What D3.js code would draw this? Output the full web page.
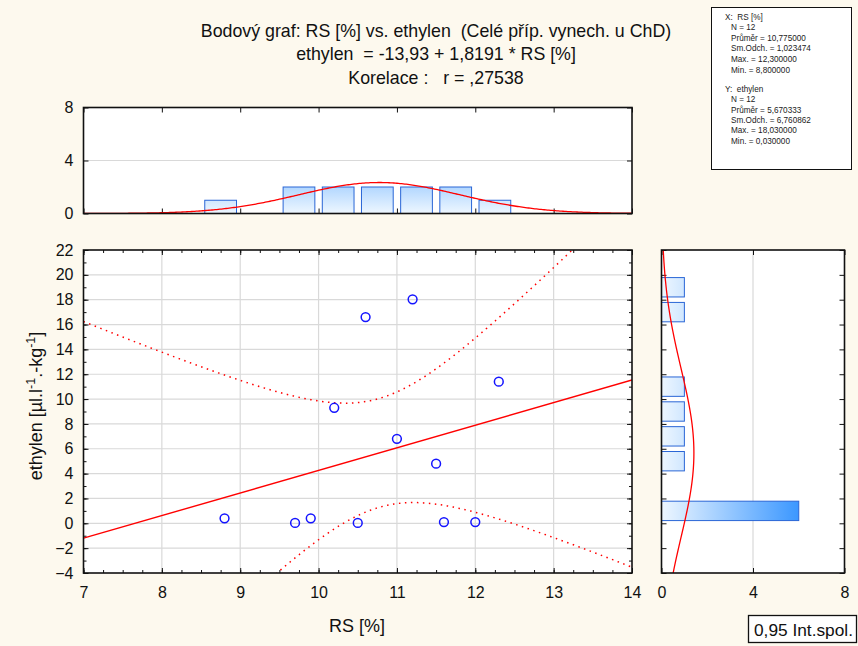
<!DOCTYPE html>
<html><head><meta charset="utf-8">
<script src="https://cdn.jsdelivr.net/npm/d3@7"></script>
<style>
body{margin:0;background:#fdf9ee;}
svg{display:block;font-family:"Liberation Sans",Arial,sans-serif;}
</style>
</head><body>
<svg id="c" width="858" height="646"></svg>
<script>
// ---------- data ----------
const rsValues      = [8.8, 9.7, 9.9, 10.2, 10.5, 10.6, 11.0, 11.2, 11.5, 11.6, 12.0, 12.3];
const ethylenValues = [0.4, 0.03, 0.4, 9.3, 0.03, 16.6, 6.8, 18.03, 4.8, 0.1, 0.1, 11.4];

const xBinStarts = [8.5, 9.5, 10, 10.5, 11, 11.5, 12];
const xBinCounts = [1, 2, 2, 2, 2, 2, 1];
const xBinWidth  = 0.5;
const yBinStarts = [0, 4, 6, 8, 10, 16, 18];
const yBinCounts = [6, 1, 1, 1, 1, 1, 1];
const yBinWidth  = 2;

const xTicks = [7, 8, 9, 10, 11, 12, 13, 14];
const yTicks = [-4, -2, 0, 2, 4, 6, 8, 10, 12, 14, 16, 18, 20, 22];
const histTicks = [0, 4, 8];

const titleLines = [
  "Bodový graf: RS [%] vs. ethylen  (Celé příp. vynech. u ChD)",
  "ethylen  = -13,93 + 1,8191 * RS [%]",
  "Korelace :   r = ,27538"
];
const statsXLines = ["X:  RS [%]", "N = 12", "Průměr = 10,775000", "Sm.Odch. = 1,023474", "Max. = 12,300000", "Min. = 8,800000"];
const statsYLines = ["Y:  ethylen", "N = 12", "Průměr = 5,670333", "Sm.Odch. = 6,760862", "Max. = 18,030000", "Min. = 0,030000"];
const meanX = 10.775, sdX = 1.023474, meanY = 5.670333, sdY = 6.760862;
const regIntercept = -13.93, regSlope = 1.8191;
const tCrit = 2.228139; // t(0.975, 10)
const xLabel = "RS [%]";
const legendText = "0,95 Int.spol.";

// ---------- layout ----------
const svg = d3.select("#c");
const M = {l: 83.5, r: 632, t: 250, b: 573};
const TH = {t: 107.5, b: 213.5};
const RH = {l: 661.5, r: 844.5};

const x = d3.scaleLinear().domain([7, 14]).range([M.l, M.r]);
const y = d3.scaleLinear().domain([-4, 22]).range([M.b, M.t]);
const yTop = d3.scaleLinear().domain([0, 8]).range([TH.b, TH.t]);
const xRight = d3.scaleLinear().domain([0, 8]).range([RH.l, RH.r]);

const defs = svg.append("defs");
function clip(id, x0, y0, w, h) {
  defs.append("clipPath").attr("id", id).append("rect").attr("x", x0).attr("y", y0).attr("width", w).attr("height", h);
}
clip("cm", M.l, M.t, M.r - M.l, M.b - M.t);
clip("ct", M.l, TH.t, M.r - M.l, TH.b - TH.t);
clip("cr", RH.l, M.t, RH.r - RH.l, M.b - M.t);

const gv = defs.append("linearGradient").attr("id", "gv").attr("gradientUnits", "userSpaceOnUse")
  .attr("x1", 0).attr("x2", 0).attr("y1", yTop(0)).attr("y2", yTop(6));
gv.append("stop").attr("offset", 0).attr("stop-color", "#eef7ff");
gv.append("stop").attr("offset", 1).attr("stop-color", "#3b97ff");
const gh = defs.append("linearGradient").attr("id", "gh").attr("gradientUnits", "userSpaceOnUse")
  .attr("y1", 0).attr("y2", 0).attr("x1", xRight(0)).attr("x2", xRight(6));
gh.append("stop").attr("offset", 0).attr("stop-color", "#eef7ff");
gh.append("stop").attr("offset", 1).attr("stop-color", "#3b97ff");

// plot backgrounds
svg.append("rect").attr("x", M.l).attr("y", M.t).attr("width", M.r - M.l).attr("height", M.b - M.t).attr("fill", "#fff");
svg.append("rect").attr("x", M.l).attr("y", TH.t).attr("width", M.r - M.l).attr("height", TH.b - TH.t).attr("fill", "#fff");
svg.append("rect").attr("x", RH.l).attr("y", M.t).attr("width", RH.r - RH.l).attr("height", M.b - M.t).attr("fill", "#fff");

// ---------- title ----------
svg.append("g").selectAll("text").data(titleLines).join("text")
  .attr("x", 436).attr("y", (d, i) => [37, 60, 84][i])
  .attr("text-anchor", "middle").attr("font-size", 17.8).attr("fill", "#111")
  .style("white-space", "pre").text(d => d);

// ---------- stats box ----------
svg.append("rect").attr("x", 711.5).attr("y", 7.5).attr("width", 140).attr("height", 162)
  .attr("fill", "#fff").attr("stroke", "#111").attr("stroke-width", 1);
const sb = svg.append("g").attr("font-size", 8.2).attr("fill", "#222");
sb.selectAll("text.sx").data(statsXLines).join("text").attr("class", "sx")
  .attr("x", (d, i) => i === 0 ? 725 : 731).attr("y", (d, i) => 19.5 + i * 10.6)
  .style("white-space", "pre").text(d => d);
sb.selectAll("text.sy").data(statsYLines).join("text").attr("class", "sy")
  .attr("x", (d, i) => i === 0 ? 725 : 731).attr("y", (d, i) => 92 + i * 10.3)
  .style("white-space", "pre").text(d => d);

// ---------- grids ----------
const grid = svg.append("g").attr("stroke", "#d9d9d9").attr("stroke-width", 1.2);
grid.selectAll("line.gx").data(xTicks.slice(1, -1)).join("line").attr("class", "gx")
  .attr("x1", d => x(d)).attr("x2", d => x(d)).attr("y1", M.t).attr("y2", M.b);
grid.selectAll("line.gy").data(yTicks.slice(1, -1)).join("line").attr("class", "gy")
  .attr("y1", d => y(d)).attr("y2", d => y(d)).attr("x1", M.l).attr("x2", M.r);
grid.append("line").attr("x1", M.l).attr("x2", M.r).attr("y1", yTop(4)).attr("y2", yTop(4));
grid.append("line").attr("y1", M.t).attr("y2", M.b).attr("x1", xRight(4)).attr("x2", xRight(4));

// ---------- axes ----------
function styleAxis(g) {
  g.select(".domain").remove();
  g.selectAll(".tick line").attr("stroke", "#111").attr("stroke-width", 1);
  g.selectAll(".tick text").attr("font-size", 16).attr("fill", "#111")
    .attr("font-family", '"Liberation Sans",Arial,sans-serif');
}
const minorX = d3.range(7, 14.001, 0.25);
const minorY = d3.range(-4, 22.001, 1);

svg.append("g").attr("transform", `translate(0,${M.b})`)
  .call(d3.axisBottom(x).tickValues(xTicks).tickSize(-5).tickPadding(13.6).tickFormat(d3.format("d"))).call(styleAxis);
svg.append("g").attr("transform", `translate(0,${M.b})`)
  .call(d3.axisBottom(x).tickValues(minorX).tickSize(-3).tickFormat("")).call(styleAxis);
svg.append("g").attr("transform", `translate(0,${M.t})`)
  .call(d3.axisTop(x).tickValues(xTicks).tickSize(-5).tickFormat("")).call(styleAxis);
svg.append("g").attr("transform", `translate(0,${M.t})`)
  .call(d3.axisTop(x).tickValues(minorX).tickSize(-3).tickFormat("")).call(styleAxis);
svg.append("g").attr("transform", `translate(${M.l},0)`)
  .call(d3.axisLeft(y).tickValues(yTicks).tickSize(-5).tickPadding(10).tickFormat(d3.format("d"))).call(styleAxis);
svg.append("g").attr("transform", `translate(${M.l},0)`)
  .call(d3.axisLeft(y).tickValues(minorY).tickSize(-3).tickFormat("")).call(styleAxis);
svg.append("g").attr("transform", `translate(${M.r},0)`)
  .call(d3.axisRight(y).tickValues(yTicks).tickSize(-5).tickFormat("")).call(styleAxis);
svg.append("g").attr("transform", `translate(${M.r},0)`)
  .call(d3.axisRight(y).tickValues(minorY).tickSize(-3).tickFormat("")).call(styleAxis);

svg.append("g").attr("transform", `translate(${M.l},0)`)
  .call(d3.axisLeft(yTop).tickValues(histTicks).tickSize(-5).tickPadding(10)).call(styleAxis);
svg.append("g").attr("transform", `translate(${M.r},0)`)
  .call(d3.axisRight(yTop).tickValues(histTicks).tickSize(-5).tickFormat("")).call(styleAxis);
svg.append("g").attr("transform", `translate(0,${TH.b})`)
  .call(d3.axisBottom(x).tickValues(xTicks).tickSize(-5).tickFormat("")).call(styleAxis);
svg.append("g").attr("transform", `translate(0,${TH.t})`)
  .call(d3.axisTop(x).tickValues(xTicks).tickSize(-5).tickFormat("")).call(styleAxis);

svg.append("g").attr("transform", `translate(0,${M.b})`)
  .call(d3.axisBottom(xRight).tickValues(histTicks).tickSize(-5).tickPadding(13.6)).call(styleAxis);
svg.append("g").attr("transform", `translate(0,${M.t})`)
  .call(d3.axisTop(xRight).tickValues(histTicks).tickSize(-5).tickFormat("")).call(styleAxis);
svg.append("g").attr("transform", `translate(${RH.l},0)`)
  .call(d3.axisLeft(y).tickValues(yTicks).tickSize(-5).tickFormat("")).call(styleAxis);
svg.append("g").attr("transform", `translate(${RH.r},0)`)
  .call(d3.axisRight(y).tickValues(yTicks).tickSize(-5).tickFormat("")).call(styleAxis);

// ---------- top histogram ----------
const xInset = 0.095 * xBinWidth;
svg.append("g").selectAll("rect").data(xBinStarts).join("rect")
  .attr("x", d => x(d + xInset)).attr("width", d => x(d + xBinWidth - xInset) - x(d + xInset))
  .attr("y", (d, i) => yTop(xBinCounts[i])).attr("height", (d, i) => yTop(0) - yTop(xBinCounts[i]))
  .attr("fill", "url(#gv)").attr("stroke", "#2a66d6").attr("stroke-width", 1);

function pdf(v, m, s) { return Math.exp(-0.5 * ((v - m) / s) ** 2) / (s * Math.sqrt(2 * Math.PI)); }
const n = rsValues.length;
const topSamples = d3.range(7, 14.0001, 0.02);
svg.append("path").attr("clip-path", "url(#ct)")
  .attr("d", d3.line().x(v => x(v)).y(v => yTop(n * xBinWidth * pdf(v, meanX, sdX)))(topSamples))
  .attr("fill", "none").attr("stroke", "#ff0000").attr("stroke-width", 1.3);

// ---------- right histogram ----------
const yInset = 0.11 * yBinWidth;
svg.append("g").selectAll("rect").data(yBinStarts).join("rect")
  .attr("y", d => y(d + yBinWidth - yInset)).attr("height", d => y(d + yInset) - y(d + yBinWidth - yInset))
  .attr("x", xRight(0)).attr("width", (d, i) => xRight(yBinCounts[i]) - xRight(0))
  .attr("fill", "url(#gh)").attr("stroke", "#2a66d6").attr("stroke-width", 1);
const rightSamples = d3.range(-4, 22.0001, 0.05);
svg.append("path").attr("clip-path", "url(#cr)")
  .attr("d", d3.line().y(v => y(v)).x(v => xRight(n * yBinWidth * pdf(v, meanY, sdY)))(rightSamples))
  .attr("fill", "none").attr("stroke", "#ff0000").attr("stroke-width", 1.3);

// ---------- regression & confidence band ----------
const mx = d3.mean(rsValues);
const Sxx = d3.sum(rsValues, v => (v - mx) ** 2);
const sse = d3.sum(rsValues, (v, i) => (ethylenValues[i] - (regIntercept + regSlope * v)) ** 2);
const sRes = Math.sqrt(sse / (n - 2));
const fit = v => regIntercept + regSlope * v;
const half = v => tCrit * sRes * Math.sqrt(1 / n + (v - mx) ** 2 / Sxx);
const bandSamples = d3.range(7, 14.0001, 0.02);
const mainG = svg.append("g").attr("clip-path", "url(#cm)");
mainG.append("path").attr("d", d3.line().x(v => x(v)).y(v => y(fit(v)))(x.domain()))
  .attr("fill", "none").attr("stroke", "#ff0000").attr("stroke-width", 1.4);
[1, -1].forEach(sgn => {
  mainG.append("path").attr("d", d3.line().x(v => x(v)).y(v => y(fit(v) + sgn * half(v)))(bandSamples))
    .attr("fill", "none").attr("stroke", "#ff0000").attr("stroke-width", 1.5)
    .attr("stroke-dasharray", "1.5,4.5");
});

// ---------- scatter points ----------
mainG.selectAll("circle").data(rsValues).join("circle")
  .attr("cx", d => x(d)).attr("cy", (d, i) => y(ethylenValues[i])).attr("r", 4.4)
  .attr("fill", "none").attr("stroke", "#1414ff").attr("stroke-width", 1.5);

// ---------- frames ----------
const fr = svg.append("g").attr("fill", "none").attr("stroke", "#111").attr("stroke-width", 1.6);
fr.append("rect").attr("x", M.l).attr("y", M.t).attr("width", M.r - M.l).attr("height", M.b - M.t);
fr.append("rect").attr("x", M.l).attr("y", TH.t).attr("width", M.r - M.l).attr("height", TH.b - TH.t);
fr.append("rect").attr("x", RH.l).attr("y", M.t).attr("width", RH.r - RH.l).attr("height", M.b - M.t);

// ---------- axis labels ----------
svg.append("text").attr("x", 357).attr("y", 632).attr("text-anchor", "middle")
  .attr("font-size", 18).attr("fill", "#111").text(xLabel);
const yl = svg.append("text").attr("transform", `translate(42,406) rotate(-90)`)
  .attr("text-anchor", "middle").attr("font-size", 18).attr("fill", "#111");
yl.append("tspan").text("ethylen [µl.l");
yl.append("tspan").attr("font-size", 12.5).attr("dy", -7).text("-1");
yl.append("tspan").attr("dy", 7).text(".-kg");
yl.append("tspan").attr("font-size", 12.5).attr("dy", -7).text("-1");
yl.append("tspan").attr("dy", 7).text("]");

// ---------- legend box ----------
svg.append("rect").attr("x", 748.5).attr("y", 615.5).attr("width", 108).attr("height", 27)
  .attr("fill", "#fff").attr("stroke", "#111").attr("stroke-width", 1.3);
svg.append("text").attr("x", 754).attr("y", 636).attr("font-size", 17.3).attr("fill", "#111").text(legendText);
</script>
</body></html>
